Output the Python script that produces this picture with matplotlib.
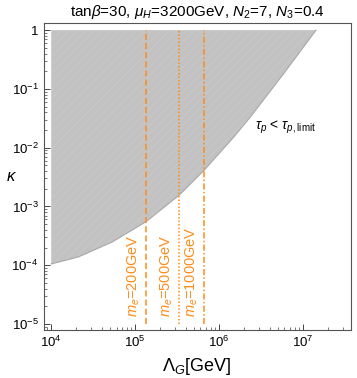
import matplotlib
matplotlib.use('Agg')
import matplotlib.pyplot as plt
import matplotlib.ticker as mticker
import numpy as np

plt.rcParams['font.family'] = ['Liberation Sans', 'DejaVu Sans']
plt.rcParams['mathtext.fontset'] = 'custom'
plt.rcParams['mathtext.rm'] = 'Liberation Sans'
plt.rcParams['mathtext.it'] = 'Liberation Sans:italic'
plt.rcParams['hatch.linewidth'] = 0.4

# frontera de la region excluida
lam_borde = [1.0e4, 2.10e4, 5.32e4, 1.35e5, 3.34e5, 6.63e5, 1.47e6, 2.34e6, 5.78e6, 1.43e7]
kappa_borde = [1.05e-4, 1.38e-4, 2.48e-4, 5.51e-4, 1.55e-3, 4.13e-3, 1.47e-2, 3.28e-2, 0.176, 1.0]

# lineas de masa del selectron
me_labels = ['200GeV', '500GeV', '1000GeV']
me_lam = [1.34e5, 3.3e5, 6.6e5]
me_styles = [(0, (4, 2)), (0, (1, 1.3)), (0, (4, 1.5, 1, 1.5))]

naranja = '#ff8c1a'

fig = plt.figure(figsize=(3.57, 3.78), dpi=100)
ax = fig.add_axes([0.1219, 0.127, 0.8605, 0.811])

ax.fill_between(lam_borde, kappa_borde, 1.0, facecolor='#c2c2c2',
                edgecolor='#cdcdcd', hatch='////', linewidth=0)
ax.plot(lam_borde, kappa_borde, color='#a8a8a8', lw=0.8)

for lab, lam, ls in zip(me_labels, me_lam, me_styles):
    ax.plot([lam, lam], [1e-5, 1.0], color=naranja, lw=1.1, linestyle=ls)
    ax.text(lam / 1.116, 1.3e-5, r'$m_e$=' + lab, rotation=90, color=naranja,
            fontsize=10.5, ha='right', va='bottom')

ax.text(2.7e6, 2.2e-2, r'$\tau_p$ < $\tau_{p,\mathrm{limit}}$', fontsize=10,
        ha='left', va='center')

ax.set_xscale('log')
ax.set_yscale('log')
ax.set_xlim(8.1e3, 3.7e7)
ax.set_ylim(7.9e-6, 1.3)

def fmt(v, pos):
    e = int(round(np.log10(v)))
    if e == 0:
        return '1'
    return r'$10^{%d}$' % e

ax.xaxis.set_major_locator(mticker.LogLocator(base=10, numticks=20))
ax.yaxis.set_major_locator(mticker.LogLocator(base=10, numticks=20))
ax.xaxis.set_major_formatter(mticker.FuncFormatter(fmt))
ax.yaxis.set_major_formatter(mticker.FuncFormatter(fmt))
ax.xaxis.set_minor_locator(mticker.LogLocator(base=10, subs=np.arange(2, 10), numticks=20))
ax.yaxis.set_minor_locator(mticker.LogLocator(base=10, subs=np.arange(2, 10), numticks=20))
ax.xaxis.set_minor_formatter(mticker.NullFormatter())
ax.yaxis.set_minor_formatter(mticker.NullFormatter())

ax.tick_params(which='both', direction='in', top=False, right=False,
               labelsize=9.5, color='#444444')
ax.tick_params(which='major', length=4, width=0.7)
ax.tick_params(which='minor', length=2, width=0.5)
for s in ax.spines.values():
    s.set_color('#555555')
    s.set_linewidth(0.8)

ax.set_xlabel(r'$\Lambda_G$[GeV]', fontsize=13)
ax.set_ylabel(r'$\kappa$', fontsize=12, rotation=0, va='center')
ax.yaxis.set_label_coords(-0.105, 0.5)
ax.set_title(r'tan$\beta$=30, $\mu_H$=3200GeV, $N_2$=7, $N_3$=0.4', fontsize=11, pad=5)

fig.savefig('out.png', dpi=100)
